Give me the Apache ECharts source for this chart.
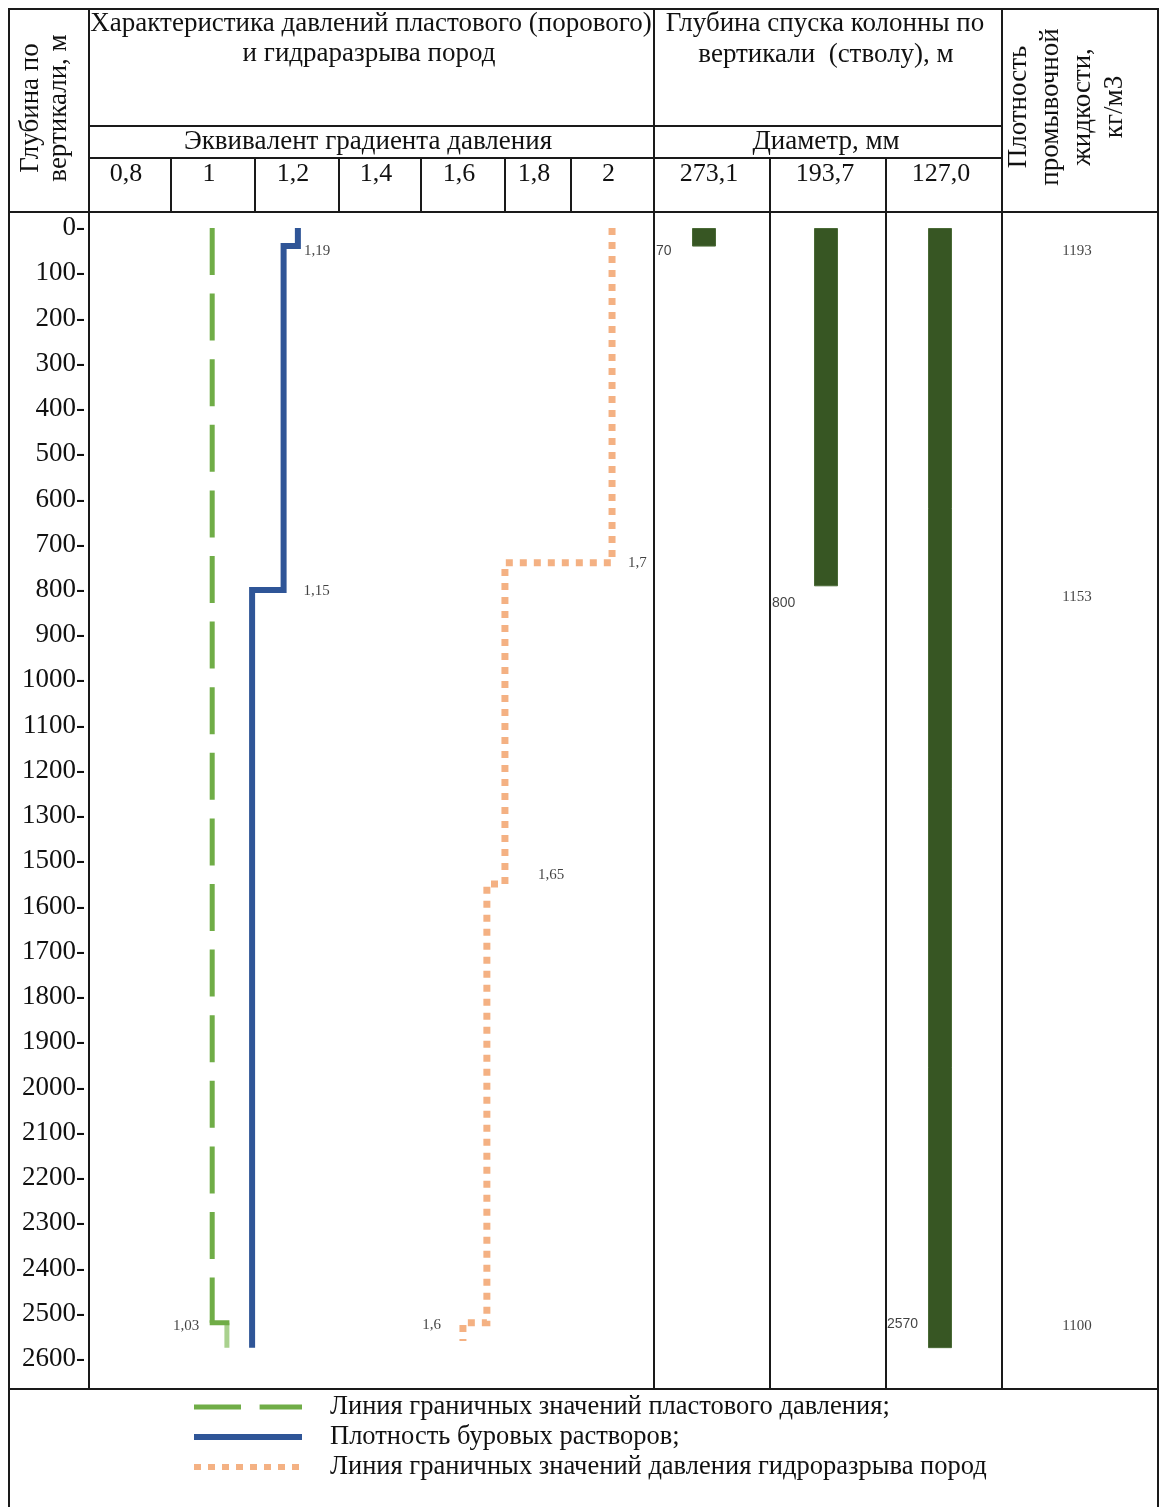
<!DOCTYPE html>
<html>
<head>
<meta charset="utf-8">
<script src="https://cdn.jsdelivr.net/npm/echarts@6/dist/echarts.min.js"></script>
<style>
html,body{margin:0;padding:0;background:#fff;}
#chart{width:1160px;height:1507px;}
</style>
</head>
<body>
<div id="chart"></div>
<script>
// ---------- DATA ----------
// depth tick labels as printed on the left scale (1400 is absent in the original)
var depthTicks = [0,100,200,300,400,500,600,700,800,900,1000,1100,1200,1300,1500,1600,1700,1800,1900,2000,2100,2200,2300,2400,2500,2600];
// header tick labels
var gradTicks = ['0,8','1','1,2','1,4','1,6','1,8','2'];
var diameters = ['273,1','193,7','127,0'];

// pore pressure gradient (green) : value per interval, interval boundaries (m)
var poreValue  = [1.01, 1.045];
var poreBounds = [0, 2520, 2575];
// drilling mud density (blue)
var mudValue   = [1.214, 1.18, 1.105];
var mudBounds  = [0, 40, 800, 2575];
// fracture pressure gradient (orange)
var fracValue  = [1.962, 1.707, 1.664, 1.607];
var fracBounds = [0, 740, 1550, 2520, 2560];

// value notes on the gradient plot, anchored at line points
var gradNotes     = ['1,19','1,15','1,7','1,65','1,6','1,03'];
var gradNoteValue = [1.214, 1.18, 1.962, 1.707, 1.607, 1.01];
var gradNoteDepth = [40, 800, 740, 1550, 2520, 2520];

// casing run depths (bars) and their printed depth labels
var casingBarDepth = [41, 792, 2576];
var casingNotes    = ['70','800','2570'];

// mud density notes (kg/m3) and the depth they are printed at
var densityNotes = ['1193','1153','1100'];
var densityDepth = [50, 815, 2527];

var legendNames = [
  'Линия граничных значений пластового давления;',
  'Плотность буровых растворов;',
  'Линия граничных значений давления гидроразрыва пород'
];

// ---------- HELPERS ----------
// position of a depth on the printed (index-based) depth scale
function depthPos(d){
  for (var i = 0; i < depthTicks.length - 1; i++){
    if (d <= depthTicks[i+1]) return i + (d - depthTicks[i]) / (depthTicks[i+1] - depthTicks[i]);
  }
  return depthTicks.length - 1;
}
function stepPoints(values, bounds){
  var pts = [];
  for (var i = 0; i < values.length; i++){
    pts.push([values[i], depthPos(bounds[i])]);
    pts.push([values[i], depthPos(bounds[i+1])]);
  }
  return pts;
}

var SERIF = '"Liberation Serif", "Times New Roman", serif';
var SANS = '"Liberation Sans", Arial, sans-serif';
var INK = '#111';
var GRID_TOP = 228, GRID_H = 1131;

var porePts = stepPoints(poreValue, poreBounds);
var mudPts = stepPoints(mudValue, mudBounds);
var fracPts = stepPoints(fracValue, fracBounds);

// ---------- TABLE FRAME (graphic) ----------
var LW = 2, LC = '#1a1a1a';
var frame = [];
function L(x1,y1,x2,y2){ frame.push({type:'line', silent:true, z:100, shape:{x1:x1,y1:y1,x2:x2,y2:y2}, style:{stroke:LC, lineWidth:LW}}); }
function T(txt, x, y, size, opts){
  opts = opts || {};
  frame.push({type:'text', silent:true, z:100, x:x, y:y, rotation: opts.rot || 0,
    style:{text:txt, x:0, y:0, font: size + 'px ' + (opts.family || SERIF), fill: INK,
      align: opts.align || 'center', verticalAlign:'middle', textAlign: opts.align || 'center', textVerticalAlign:'middle',
      lineHeight: opts.lh || size}});
}
// outer + main lines
L(9,9,1158,9); L(9,8,9,1507); L(1158,8,1158,1507);
L(89,126,1002,126); L(89,158,1002,158);
L(8,212,1159,212); L(8,1389,1159,1389);
L(89,9,89,1389); L(654,9,654,1389); L(1002,9,1002,1389);
L(770,158,770,1389); L(886,158,886,1389);
var gradCellEdges = [89,171,255,339,421,505,571,654];
for (var i = 1; i < gradCellEdges.length - 1; i++) L(gradCellEdges[i],158,gradCellEdges[i],212);
// header texts
T('Характеристика давлений пластового (порового)', 371, 24, 27);
T('и гидраразрыва пород', 369, 54, 27);
T('Глубина спуска колонны по', 825, 24, 27);
T('вертикали  (стволу), м', 826, 55, 27);
T('Эквивалент градиента давления', 368, 142, 27);
T('Диаметр, мм', 826, 142, 27);
T('Глубина по\nвертикали, м', 45, 108, 27, {rot: Math.PI/2, lh: 28});
T('Плотность\nпромывочной\nжидкости,\nкг/м3', 1067, 107, 27, {rot: Math.PI/2, lh: 32});
for (var i = 0; i < gradTicks.length; i++){
  T(gradTicks[i], (gradCellEdges[i] + gradCellEdges[i+1]) / 2 - 4, 174, 26);
}
var diamEdges = [654,770,886,1002];
for (var i = 0; i < diameters.length; i++){
  T(diameters[i], (diamEdges[i] + diamEdges[i+1]) / 2 - 3, 174, 26);
}

// ---------- CHART ----------
var yBase = function(gi, showLabels){
  return {gridIndex:gi, type:'value', inverse:true, min:0, max:depthTicks.length-1, interval:1,
    axisLine:{show:false}, axisTick:{show:false}, splitLine:{show:false},
    axisLabel:{show:showLabels, margin:39, color:INK, fontFamily:SERIF, fontSize:27,
      formatter:function(v){ return depthTicks[Math.round(v)] + '-'; }}};
};
var hiddenX = function(gi, type, extra){
  var o = {gridIndex:gi, type:type, show:false};
  for (var k in extra) o[k] = extra[k];
  return o;
};

var gradOffsets = [[6,5],[20,1],[16,0],[33,-9],[-22,2],[-13,3]];
var gradAligns = ['left','left','left','left','right','right'];
var casingOffsets = [[-48,5],[-54,17],[-53,-24]];
var GREEN = '#70ad47', GREEN_LIGHT = '#a9d18e', BLUE = '#2f5597', ORANGE = '#f4b183';
var GREEN_DASH = [47, 18.6], ORANGE_DOT = [7, 7];

var series = [
  {name: legendNames[0], type:'line', xAxisIndex:0, yAxisIndex:0, data: porePts.slice(0,2), symbol:'none',
   lineStyle:{color:GREEN, width:5, type:GREEN_DASH, cap:'butt', join:'miter'}, itemStyle:{color:GREEN}, z:3},
  {name:'pore-step', type:'line', xAxisIndex:0, yAxisIndex:0, data: porePts.slice(1,3), symbol:'none',
   lineStyle:{color:GREEN, width:5, join:'miter', cap:'square'}, z:3},
  {name:'pore-tail', type:'line', xAxisIndex:0, yAxisIndex:0, data: porePts.slice(2), symbol:'none',
   lineStyle:{color:GREEN_LIGHT, width:5, join:'miter'}, z:2},
  {name: legendNames[1], type:'line', xAxisIndex:0, yAxisIndex:0, data: mudPts, symbol:'none',
   lineStyle:{color:BLUE, width:6, join:'miter'}, itemStyle:{color:BLUE}, z:3},
  {name: legendNames[2], type:'line', xAxisIndex:0, yAxisIndex:0, data: fracPts, symbol:'none',
   lineStyle:{color:ORANGE, width:7, type:ORANGE_DOT, cap:'butt', join:'miter'}, itemStyle:{color:ORANGE}, z:3},
  {name:'grad-notes', type:'scatter', xAxisIndex:0, yAxisIndex:0, symbolSize:0, z:4,
   data: gradNotes.map(function(t,i){
     return {value:[gradNoteValue[i], depthPos(gradNoteDepth[i])],
       label:{show:true, formatter:t, position:'inside', align:gradAligns[i], verticalAlign:'middle',
         offset:gradOffsets[i], fontFamily:SERIF, fontSize:15, color:INK}};
   })}
];
for (var c = 0; c < 3; c++){
  series.push({name:'casing'+c, type:'bar', xAxisIndex:c+1, yAxisIndex:c+1, barWidth:24,
    data:[depthPos(casingBarDepth[c])], itemStyle:{color:'#375623', borderColor:'#4a6a36', borderWidth:1}});
  series.push({name:'casing-note'+c, type:'scatter', xAxisIndex:c+1, yAxisIndex:c+1, symbolSize:0, z:4,
    data:[{value:[0, depthPos(casingBarDepth[c])],
      label:{show:true, formatter:casingNotes[c], position:'inside', align:'left', verticalAlign:'middle',
        offset:casingOffsets[c], fontFamily:SANS, fontSize:14, color:INK}}]});
}
series.push({name:'density-notes', type:'scatter', xAxisIndex:4, yAxisIndex:4, symbolSize:0,
  data: densityNotes.map(function(t,i){
    return {value:[0.5, depthPos(densityDepth[i])],
      label:{show:true, formatter:t, position:'inside', align:'center', verticalAlign:'middle',
        fontFamily:SERIF, fontSize:15, color:INK}};
  })});

var grids = [
  {left:124, top:GRID_TOP, width:504, height:GRID_H},
  {left:654, top:GRID_TOP, width:100, height:GRID_H},
  {left:776, top:GRID_TOP, width:100, height:GRID_H},
  {left:890, top:GRID_TOP, width:100, height:GRID_H},
  {left:1002, top:GRID_TOP, width:150, height:GRID_H}
].map(function(g){ g.outerBoundsMode = 'none'; g.containLabel = false; return g; });

var hideSymbol = {opacity:0};
var option = {
  animation:false,
  backgroundColor:'#fff',
  grid: grids,
  xAxis: [
    hiddenX(0,'value',{min:0.8,max:2.0}),
    hiddenX(1,'category',{data:[diameters[0]]}),
    hiddenX(2,'category',{data:[diameters[1]]}),
    hiddenX(3,'category',{data:[diameters[2]]}),
    hiddenX(4,'value',{min:0,max:1})
  ],
  yAxis: [yBase(0,true), yBase(1,false), yBase(2,false), yBase(3,false), yBase(4,false)],
  legend: {
    orient:'vertical', left:186, top:1387, itemWidth:108, itemHeight:8, itemGap:0,
    textStyle:{fontFamily:SERIF, fontSize:26.5, color:INK, lineHeight:30, padding:[0,0,0,23]},
    data:[
      {name:legendNames[0], itemStyle:hideSymbol, lineStyle:{width:5}},
      {name:legendNames[1], itemStyle:hideSymbol, lineStyle:{width:6}},
      {name:legendNames[2], itemStyle:hideSymbol, lineStyle:{width:6}}
    ]
  },
  graphic: frame,
  series: series
};

var chart = echarts.init(document.getElementById('chart'), null, {renderer:'canvas'});
chart.setOption(option);
</script>
</body>
</html>
